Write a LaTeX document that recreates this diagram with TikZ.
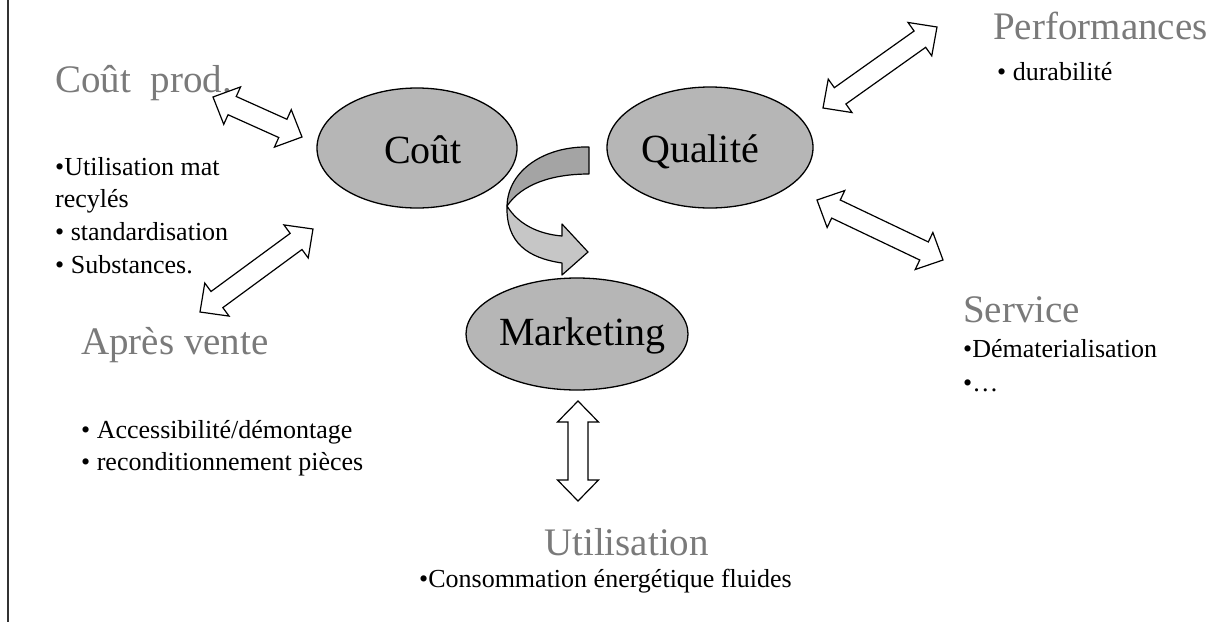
\documentclass[tikz,border=0pt]{standalone}
\usepackage{fontspec}
\setmainfont{Liberation Serif}
\usetikzlibrary{shapes.geometric,calc}
\definecolor{shade}{HTML}{B6B6B6}
\definecolor{shadedark}{HTML}{A4A4A4}
\definecolor{shadelight}{HTML}{C6C6C6}
\definecolor{titlegray}{HTML}{7A7A7A}
\tikzset{
  oval/.style={ellipse, draw=black, line width=1.3pt, fill=shade, inner sep=0pt},
  ovaltext/.style={font=\fontsize{40}{48}\selectfont, anchor=base, inner sep=0pt},
  title/.style={font=\fontsize{39}{46}\selectfont, text=titlegray, anchor=base west, inner sep=0pt},
  item/.style={font=\fontsize{26}{32}\selectfont, anchor=base west, inner sep=0pt},
  twoway/.style={draw=black, line width=1.2pt, fill=white, line join=miter},
  ribbon/.style={draw=black, line width=1.2pt, line join=round}
}
% hollow double-headed arrow between two named points
\newcommand\twoway[2]{%
  \coordinate (tw1) at ($(#1)!21pt!(#2)$);
  \coordinate (tw2) at ($(#2)!21pt!(#1)$);
  \draw[twoway] (#1) -- ($(tw1)!20.5pt!90:(#2)$) -- ($(tw1)!10pt!90:(#2)$)
    -- ($(tw2)!10pt!-90:(#1)$) -- ($(tw2)!20.5pt!-90:(#1)$) -- (#2)
    -- ($(tw2)!20.5pt!90:(#1)$) -- ($(tw2)!10pt!90:(#1)$)
    -- ($(tw1)!10pt!-90:(#2)$) -- ($(tw1)!20.5pt!-90:(#2)$) -- cycle;}

\begin{document}
\begin{tikzpicture}[x=1pt,y=-1pt]
\useasboundingbox (0,0) rectangle (1221,622);

% left margin rule
\draw[line width=2pt, black!80] (8,0) -- (8,622);

% the three main ovals
\node[oval, minimum width=200, minimum height=120] (cout) at (417,148) {};
\node[ovaltext] (coutlbl) at (423,163) {Coût};
\node[oval, minimum width=206, minimum height=121] (qual) at (710,147.5) {};
\node[ovaltext] (quallbl) at (700,162) {Qualité};
\node[oval, minimum width=222, minimum height=112] (mkt) at (577,334) {};
\node[ovaltext] (mktlbl) at (582.5,345) {Marketing};

% curved ribbon arrow towards Marketing
\draw[ribbon, fill=shadedark] (589,147) .. controls (545,146) and (508,170) .. (507,206)
  .. controls (522,184) and (552,174) .. (589,174) -- cycle;
\draw[ribbon, fill=shadelight] (507,206) .. controls (518,224) and (538,234) .. (562,236)
  -- (562,224) -- (588,252) -- (562,275) -- (562,263)
  .. controls (528,258) and (506,243) .. (507,206) -- cycle;

% titles and their bullet lists
\node[title] (tprod) at (55,92) {Coût~~prod.};
\node[item] (l1) at (55,175) {•Utilisation mat};
\node[item] (l2) at (55,207) {recylés};
\node[item] (l3) at (55,240) {• standardisation};
\node[item] (l4) at (55,273) {• Substances.};

\node[title] (tapres) at (81,354) {Après vente};
\node[item] (b1) at (81,438) {• Accessibilité/démontage};
\node[item] (b2) at (81,470) {• reconditionnement pièces};

\node[title] (tperf) at (993,39) {Performances};
\node[item] (p1) at (997,80) {• durabilité};

\node[title] (tserv) at (963,322) {Service};
\node[item] (s1) at (963,357) {•Dématerialisation};
\node[item] (s2) at (963,391) {•…};

\node[title] (tutil) at (544,555) {Utilisation};
\node[item] (u1) at (419,587) {•Consommation énergétique fluides};

% ends of the double arrows
\coordinate (a1s) at (213,97);  \coordinate (a1e) at (302,137);
\coordinate (a2s) at (313,229); \coordinate (a2e) at (200,312);
\coordinate (a3s) at (937,27);  \coordinate (a3e) at (823,108);
\coordinate (a4s) at (817,200); \coordinate (a4e) at (943,260);
\coordinate (a5s) at (578,401); \coordinate (a5e) at (578,501);

\twoway{a1s}{a1e}
\twoway{a2s}{a2e}
\twoway{a3s}{a3e}
\twoway{a4s}{a4e}
\twoway{a5s}{a5e}
\end{tikzpicture}
\end{document}
